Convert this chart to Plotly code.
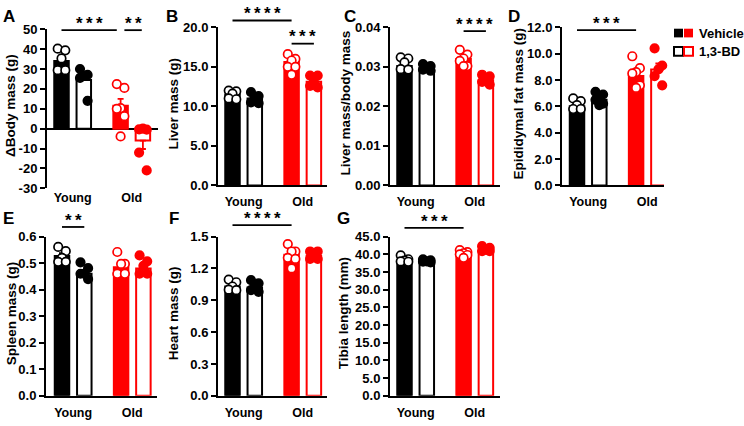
import plotly.graph_objects as go

W, H = 744, 426
FONT = "Arial, Liberation Sans, sans-serif"
RED = "#FF0000"
BLACK = "#000000"

groups = ["Young", "Old"]
treatments = ["Vehicle", "1,3-BD"]
# bar order: Young-Vehicle, Young-1,3-BD, Old-Vehicle, Old-1,3-BD

# ---------------- data ----------------
A_means = [34.0, 24.5, 11.5, -6.0]
A_sems = [2.4, 2.8, 3.5, 4.2]
A_points = [[40.2, 39.4, 35.3, 29.4, 29.4],
            [30.0, 27.0, 26.5, 25.5, 14.0],
            [22.4, 20.5, 10.3, 10.0, 6.3, -3.9],
            [-0.3, -0.5, 0.0, -12.0, -21.0]]

B_means = [11.5, 11.0, 15.6, 13.1]
B_sems = [0.25, 0.25, 0.4, 0.3]
B_points = [[12.0, 11.9, 11.6, 11.0, 10.9],
            [11.8, 11.3, 11.0, 10.5, 10.4],
            [16.6, 16.0, 15.8, 15.0, 15.0, 14.0],
            [13.9, 13.9, 13.1, 12.6, 12.4]]

C_means = [0.0302, 0.0297, 0.0320, 0.0266]
C_sems = [0.0006, 0.0003, 0.0006, 0.0005]
C_points = [[0.0324, 0.0321, 0.0311, 0.0294, 0.0293],
            [0.0307, 0.0302, 0.0300, 0.0293, 0.0290],
            [0.0343, 0.0331, 0.0321, 0.0315, 0.0302, 0.0302],
            [0.0280, 0.0276, 0.0268, 0.0262, 0.0255]]

D_means = [6.0, 6.5, 8.3, 8.8]
D_sems = [0.15, 0.15, 0.35, 0.45]
D_points = [[6.6, 6.4, 6.1, 5.8, 5.8],
            [7.1, 6.9, 6.8, 6.5, 6.2, 6.1],
            [9.8, 8.9, 8.6, 8.5, 7.6, 7.4],
            [10.4, 9.1, 8.8, 8.3, 7.6]]

E_means = [0.527, 0.460, 0.485, 0.480]
E_sems = [0.011, 0.011, 0.015, 0.012]
E_points = [[0.561, 0.545, 0.520, 0.505, 0.505],
            [0.503, 0.481, 0.460, 0.460, 0.440],
            [0.542, 0.497, 0.497, 0.460, 0.460],
            [0.529, 0.507, 0.490, 0.460, 0.460]]

F_means = [1.03, 1.02, 1.33, 1.32]
F_sems = [0.02, 0.02, 0.03, 0.02]
F_points = [[1.095, 1.07, 1.03, 1.00, 0.995],
            [1.09, 1.06, 1.03, 0.995, 0.98],
            [1.43, 1.36, 1.36, 1.30, 1.29, 1.20],
            [1.36, 1.36, 1.33, 1.29, 1.29]]

G_means = [38.2, 38.0, 40.3, 41.0]
G_sems = [0.4, 0.15, 0.3, 0.3]
G_points = [[39.7, 38.6, 38.2, 38.0, 37.9],
            [38.6, 38.3, 38.0, 37.9, 37.7],
            [41.2, 40.6, 40.3, 40.0, 39.8, 39.0],
            [42.3, 41.8, 41.3, 40.9, 40.9]]

titles = ["ΔBody mass (g)", "Liver mass (g)", "Liver mass/body mass",
          "Epididymal fat mass (g)", "Spleen mass (g)", "Heart mass (g)",
          "Tibia length (mm)"]
letters = ["A", "B", "C", "D", "E", "F", "G"]

A_ticks = [-30, -20, -10, 0, 10, 20, 30, 40, 50]
B_ticks = [0, 5, 10, 15, 20]
C_ticks = [0, 0.01, 0.02, 0.03, 0.04]
D_ticks = [0, 2, 4, 6, 8, 10, 12]
E_ticks = [0, 0.1, 0.2, 0.3, 0.4, 0.5, 0.6]
F_ticks = [0, 0.3, 0.6, 0.9, 1.2, 1.5]
G_ticks = [0, 5, 10, 15, 20, 25, 30, 35, 40, 45]

# significance: (bar i, bar j, label)
A_sig = [(0, 2, "***"), (2, 3, "**")]
B_sig = [(0, 2, "****"), (2, 3, "***")]
C_sig = [(2, 3, "****")]
D_sig = [(0, 2, "***")]
E_sig = [(0, 1, "**")]
F_sig = [(0, 2, "****")]
G_sig = [(0, 2, "***")]

# ---------------- layout (pixel geometry) ----------------
POS = [1.0, 2.0, 3.65, 4.65]
GROUP_POS = [1.5, 4.15]
UNIT = 22.3
BARW = 0.65

panels = [
    dict(m=A_means, s=A_sems, p=A_points, ticks=A_ticks, fmt=None, yr=[-30, 50],
         box=(47, 158, 61.5, 23, 188), sig=A_sig, sigpy=[24, 24], inset=[(0, -0.17), (0.17, -0.05)],
         tx=11, lx=1, ly=10, sto=0),
    dict(m=B_means, s=B_sems, p=B_points, ticks=B_ticks, fmt=".1f", yr=[0, 20],
         box=(218, 327, 232.5, 21, 185), sig=B_sig, sigpy=[14, 38], inset=[(0, 0), (0, 0)],
         tx=173, lx=164, ly=10, sto=4),
    dict(m=C_means, s=C_sems, p=C_points, ticks=C_ticks, fmt=".2f", yr=[0, 0.04],
         box=(390, 500, 404.5, 21, 185), sig=C_sig, sigpy=[25], inset=[(0, 0)],
         tx=345, lx=342, ly=10, sto=4),
    dict(m=D_means, s=D_sems, p=D_points, ticks=D_ticks, fmt=".1f", yr=[0, 12],
         box=(562, 664, 577, 21, 185), sig=D_sig, sigpy=[24], inset=[(0, 0)],
         tx=518, lx=506, ly=10, sto=4),
    dict(m=E_means, s=E_sems, p=E_points, ticks=E_ticks, fmt=".1f", yr=[0, 0.6],
         box=(46, 157, 62, 238, 403), sig=E_sig, sigpy=[228], inset=[(0, 0)],
         tx=11, lx=1, ly=219, sto=4),
    dict(m=F_means, s=F_sems, p=F_points, ticks=F_ticks, fmt=".1f", yr=[0, 1.5],
         box=(218, 327, 232.5, 238, 403), sig=F_sig, sigpy=[226], inset=[(0, 0)],
         tx=173, lx=167, ly=219, sto=4),
    dict(m=G_means, s=G_sems, p=G_points, ticks=G_ticks, fmt=".1f", yr=[0, 45],
         box=(390, 500, 404.5, 238, 403), sig=G_sig, sigpy=[229], inset=[(0, 0)],
         tx=343, lx=335, ly=219, sto=4),
]

colors = [BLACK, BLACK, RED, RED]
filled = [True, False, True, False]
OFFS = {5: [-0.17, 0.17, 0.0, -0.17, 0.17],
        6: [-0.17, 0.17, 0.0, -0.17, 0.17, 0.0]}

fig = go.Figure()
shapes = []
annotations = []
layout_axes = {}

def px_x(v):
    return v / W

def px_y(v):
    return 1 - v / H

for k, pn in enumerate(panels, start=1):
    xa = "x" if k == 1 else f"x{k}"
    ya = "y" if k == 1 else f"y{k}"
    x0, x1, c1, yt, yb = pn["box"]
    r0 = POS[0] - (c1 - x0) / UNIT
    r1 = r0 + (x1 - x0) / UNIT

    for i in range(4):
        mean = pn["m"][i]
        sem = pn["s"][i]
        up = mean >= 0
        fig.add_trace(go.Bar(
            x=[POS[i]], y=[mean], width=BARW, xaxis=xa, yaxis=ya,
            marker=dict(color=colors[i] if filled[i] else "white",
                        line=dict(color=colors[i], width=2)),
            error_y=dict(type="data", symmetric=False,
                         array=[sem if up else 0], arrayminus=[0 if up else sem],
                         color=colors[i], thickness=1.8, width=3),
            showlegend=False, hoverinfo="skip"))
        pts = pn["p"][i]
        offs = OFFS[len(pts)]
        fig.add_trace(go.Scatter(
            x=[POS[i] + o for o in offs], y=pts, xaxis=xa, yaxis=ya,
            mode="markers",
            marker=dict(symbol="circle", size=8.5,
                        color="white" if filled[i] else colors[i],
                        line=dict(color=colors[i], width=1.7)),
            showlegend=False, hoverinfo="skip", cliponaxis=False))

    xkey = "xaxis" if k == 1 else f"xaxis{k}"
    ykey = "yaxis" if k == 1 else f"yaxis{k}"
    layout_axes[xkey] = dict(
        domain=[px_x(x0), px_x(x1)], range=[r0, r1], anchor=ya,
        showline=(k != 1), linecolor=BLACK, linewidth=2,
        tickvals=GROUP_POS, ticktext=groups, ticks="",
        ticklabelstandoff=pn["sto"],
        tickfont=dict(family=FONT, size=12.5, color=BLACK, weight="bold"),
        showgrid=False, zeroline=False, fixedrange=True)
    yax = dict(
        domain=[px_y(yb), px_y(yt)], range=pn["yr"], anchor=xa,
        showline=True, linecolor=BLACK, linewidth=2,
        ticks="outside", ticklen=5, tickwidth=2, tickcolor=BLACK,
        tickvals=pn["ticks"],
        tickfont=dict(family=FONT, size=13, color=BLACK, weight="bold"),
        showgrid=False, fixedrange=True,
        zeroline=(k == 1), zerolinecolor=BLACK, zerolinewidth=2)
    if pn["fmt"]:
        yax["tickformat"] = pn["fmt"]
    else:
        yax["ticktext"] = [str(t) for t in pn["ticks"]]
    layout_axes[ykey] = yax

    annotations.append(dict(
        text=titles[k - 1], textangle=-90, xref="paper", yref="paper",
        x=px_x(pn["tx"]), y=px_y((yt + yb) / 2 - 3), xanchor="center", yanchor="middle",
        showarrow=False, font=dict(family=FONT, size=13.5, color=BLACK, weight="bold")))
    annotations.append(dict(
        text=letters[k - 1], xref="paper", yref="paper",
        x=px_x(pn["lx"]), y=px_y(pn["ly"]), xanchor="left", yanchor="middle",
        showarrow=False, font=dict(family=FONT, size=17, color=BLACK, weight="bold")))
    for (i, j, lab), py, (ia, ja) in zip(pn["sig"], pn["sigpy"], pn["inset"]):
        xs, xe = POS[i] + ia, POS[j] + ja
        shapes.append(dict(type="line", xref=xa, yref="paper",
                           x0=xs, x1=xe, y0=px_y(py), y1=px_y(py),
                           line=dict(color=BLACK, width=1.8)))
        annotations.append(dict(
            text="\u2009".join(lab), xref=xa, yref="paper",
            x=(xs + xe) / 2, y=px_y(py - 7), xanchor="center", yanchor="middle",
            showarrow=False, font=dict(family=FONT, size=17, color=BLACK, weight="bold")))

# legend (custom two-colour swatches)
for row, (label, fill) in enumerate([("Vehicle", True), ("1,3-BD", False)]):
    yc = 27 if row == 0 else 46
    for c, col in enumerate([BLACK, RED]):
        xs = 674 + c * 10
        shapes.append(dict(type="rect", xref="paper", yref="paper",
                           x0=px_x(xs), x1=px_x(xs + 9), y0=px_y(yc + 4.5), y1=px_y(yc - 4.5),
                           fillcolor=col if fill else "white",
                           line=dict(color=col, width=2 if not fill else 0)))
    annotations.append(dict(
        text=label, xref="paper", yref="paper", x=px_x(697), y=px_y(yc),
        xanchor="left", yanchor="middle", showarrow=False,
        font=dict(family=FONT, size=13, color=BLACK, weight="bold")))

fig.update_layout(
    width=W, height=H, margin=dict(l=0, r=0, t=0, b=0),
    paper_bgcolor="white", plot_bgcolor="white",
    barmode="overlay", showlegend=False,
    shapes=shapes, annotations=annotations,
    font=dict(family=FONT, color=BLACK),
    **layout_axes)

fig.write_html("out.html", config={"displayModeBar": False},
               post_script="document.body.style.margin='0';document.body.style.overflow='hidden';")
